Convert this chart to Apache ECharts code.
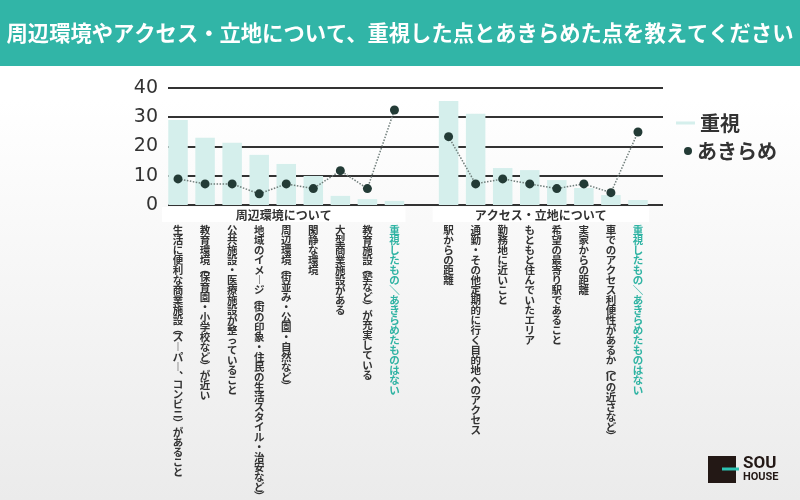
<!DOCTYPE html>
<html><head><meta charset="utf-8">
<script src="https://cdn.jsdelivr.net/npm/echarts@6/dist/echarts.min.js"></script>
<style>html,body{margin:0;padding:0}#c{width:800px;height:500px}</style>
</head><body><div id="c"></div>
<script>
const titleText = '周辺環境やアクセス・立地について、重視した点とあきらめた点を教えてください';
const groupNames = ['周辺環境について', 'アクセス・立地について'];
const groupRanges = [[0, 8], [10, 17]];
const categories = [
  '生活に便利な商業施設（スーパー、コンビニ）があること',
  '教育環境（保育園・小学校など）が近い',
  '公共施設・医療施設が整っていること',
  '地域のイメージ（街の印象・住民の生活スタイル・治安など）',
  '周辺環境（街並み・公園・自然など）',
  '閑静な環境',
  '大型商業施設がある',
  '教育施設（塾など）が充実している',
  '重視したもの/あきらめたものはない',
  '',
  '駅からの距離',
  '通勤・その他定期的に行く目的地へのアクセス',
  '勤務地に近いこと',
  'もともと住んでいたエリア',
  '希望の最寄り駅であること',
  '実家からの距離',
  '車でのアクセス利便性があるか（ICの近さなど）',
  '重視したもの/あきらめたものはない'
];
const highlightIndex = [8, 17];
const importantValues = [29.0, 22.9, 21.2, 17.1, 14.0, 9.9, 3.1, 2.0, 1.4, null, 35.5, 31.1, 12.6, 11.9, 8.5, 5.8, 3.4, 1.7];
const gaveUpValues = [8.9, 7.2, 7.2, 3.8, 7.2, 5.6, 11.7, 5.6, 32.4, null, 23.3, 7.2, 8.9, 7.2, 5.6, 7.2, 4.2, 24.9];
const seriesNames = ['重視', 'あきらめ'];
const yMin = 0, yMax = 40, yInterval = 10;

const CJK = "'Noto Sans CJK JP', 'Noto Sans', sans-serif";
const vmap = {'ー':'︱','/':'＼'};
const halfMap = {'（':'{po|︵}','）':'{pc|︶}','、':'{pm|︑}'};
function vert(s) {
  const chars = Array.from(s);
  const out = [];
  for (let i = 0; i < chars.length; i++) {
    let c = chars[i];
    if (/[A-Za-z]/.test(c)) {
      while (i + 1 < chars.length && /[A-Za-z]/.test(chars[i + 1])) { c += chars[++i]; }
      out.push(c);
    } else if (halfMap[c]) out.push(halfMap[c]);
    else out.push(vmap[c] || c);
  }
  return out.join('\n');
}

const chart = echarts.init(document.getElementById('c'));
const option = {
  backgroundColor: new echarts.graphic.LinearGradient(0, 0, 0, 1, [
    {offset: 0, color: '#ffffff'}, {offset: 0.2, color: '#ffffff'}, {offset: 1, color: '#ebebeb'}
  ]),
  animation: false,
  title: {
    text: titleText, left: 'center', top: 17,
    textStyle: {color: '#fff', fontSize: 21.3, fontWeight: 'bold', fontFamily: CJK}
  },
  legend: [
    {data: [seriesNames[0]], left: 671, top: 108, icon: 'rect', itemWidth: 19, itemHeight: 3,
     textStyle: {fontSize: 20, fontWeight: 'bold', color: '#333', fontFamily: CJK}},
    {data: [seriesNames[1]], left: 679, top: 136, icon: 'circle', itemWidth: 8, itemHeight: 8,
     textStyle: {fontSize: 20, fontWeight: 'bold', color: '#333', fontFamily: CJK}}
  ],
  grid: [
    {left: 168, right: 137, top: 87.7, bottom: 295, outerBoundsMode: 'none', containLabel: false},
    {left: 164.5, right: 148.5, top: 87.7, bottom: 295, outerBoundsMode: 'none', containLabel: false}
  ],
  xAxis: [
    {gridIndex: 0, type: 'value', show: false, min: 0, max: 1},
    {gridIndex: 1, type: 'category', data: categories,
     axisLine: {show: false}, axisTick: {show: false},
     axisLabel: {interval: 0, formatter: (v) => vert(v), fontSize: 10.5, lineHeight: 10.0,
       fontWeight: 'bold', fontFamily: CJK, margin: 20, verticalAlign: 'top',
       color: (v, i) => highlightIndex.indexOf(i) >= 0 ? '#2fb3a3' : '#333',
       rich: {
         po: {fontSize: 10.5, fontWeight: 'bold', fontFamily: CJK, lineHeight: 7.5},
         pc: {fontSize: 10.5, fontWeight: 'bold', fontFamily: CJK, lineHeight: 7.5},
         pm: {fontSize: 10.5, fontWeight: 'bold', fontFamily: CJK, lineHeight: 7}
       }}}
  ],
  yAxis: [
    {gridIndex: 0, type: 'value', min: yMin, max: yMax, interval: yInterval,
     axisLine: {show: false}, axisTick: {show: false},
     splitLine: {lineStyle: {color: '#333', width: 2}},
     axisLabel: {fontSize: 19, color: '#333', fontFamily: 'DejaVu Sans', margin: 10}},
    {gridIndex: 1, type: 'value', min: yMin, max: yMax, show: false}
  ],
  series: [
    {name: seriesNames[0], type: 'bar', xAxisIndex: 1, yAxisIndex: 1, data: importantValues,
     barWidth: 19.5, itemStyle: {color: '#d5efec'}},
    {name: seriesNames[1], type: 'line', xAxisIndex: 1, yAxisIndex: 1, data: gaveUpValues,
     symbol: 'circle', symbolSize: 9, connectNulls: false, z: 5,
     itemStyle: {color: '#233b36'},
     lineStyle: {type: 'dotted', color: '#6f7d7a', width: 1.5}}
  ]
};
chart.setOption(option);

const graphics = [
  {type: 'rect', z: -1, shape: {x: 0, y: 0, width: 800, height: 66}, style: {fill: '#31b5a7'}},
  {type: 'rect', shape: {x: 708, y: 456, width: 28, height: 27}, style: {fill: '#231815'}},
  {type: 'rect', shape: {x: 722, y: 467.5, width: 17, height: 3}, style: {fill: '#2cc3b3'}},
  {type: 'text', x: 743, y: 455, style: {text: 'SOU', fill: '#231815', font: 'bold 17px Roboto', letterSpacing: 1}},
  {type: 'text', x: 743, y: 472, style: {text: 'HOUSE', fill: '#231815', font: 'bold 11px Roboto'}}
];
groupRanges.forEach((r, gi) => {
  const x0 = chart.convertToPixel({seriesIndex: 0}, [r[0], 0])[0] - 16;
  const x1 = chart.convertToPixel({seriesIndex: 0}, [r[1], 0])[0] + 11;
  graphics.push({type: 'rect', shape: {x: x0, y: 207, width: x1 - x0, height: 15}, style: {fill: '#fff'}});
  graphics.push({type: 'text', x: (x0 + x1) / 2, y: 215,
    style: {text: groupNames[gi], fill: '#333', font: 'bold 12px ' + CJK, align: 'center', verticalAlign: 'middle'}});
});
chart.setOption({graphic: graphics});
</script></body></html>
